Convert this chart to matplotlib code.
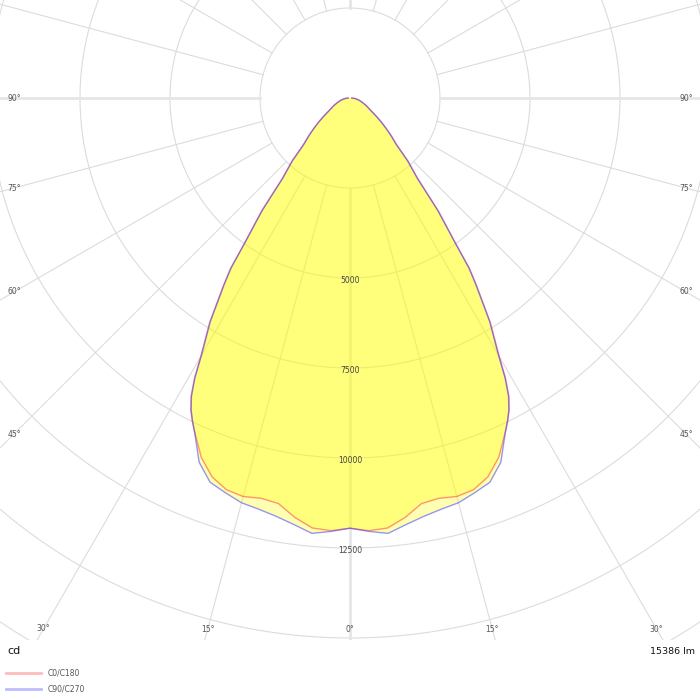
import numpy as np
import matplotlib
matplotlib.use("Agg")
import matplotlib.pyplot as plt
from matplotlib.patches import Rectangle
from matplotlib.lines import Line2D

# ---------- DATA (luminous intensity, cd) ----------
angles = [0, 2.5, 5, 7.5, 10, 12.5, 15, 17.5, 20, 22.5, 25, 26, 27, 28, 29,
          30, 32, 34, 35, 36, 37, 38, 40, 42.5, 45, 47.5, 50, 52.5, 55, 57.5,
          60, 65, 70, 75, 80, 85, 90]
c0_c180 = [11950, 12030, 11990, 11750, 11440, 11390, 11460, 11410, 11200, 10800,
           10220, 9990, 9740, 9410, 8920, 8290, 7360, 6290, 5790, 4990, 4440,
           3990, 2940, 2400, 1830, 1560, 1310, 1100, 910, 750,
           640, 500, 370, 280, 200, 120, 50]
c90_c270 = [11950, 12050, 12140, 11950, 11800, 11700, 11640, 11500, 11360, 10950,
            10220, 9980, 9720, 9380, 8880, 8250, 7320, 6250, 5750, 4950, 4400,
            3950, 2900, 2370, 1800, 1540, 1300, 1090, 900, 740,
            630, 490, 370, 280, 200, 120, 50]
series_names = ["C0/C180", "C90/C270"]
series_colors = ["#ff4040", "#4040ff"]

ring_values = [2500, 5000, 7500, 10000, 12500, 15000, 17500, 20000]
ring_labels = [5000, 7500, 10000, 12500]
angle_ticks = [0, 15, 30, 45, 60, 75, 90]
unit_text = "cd"
flux_text = "15386 lm"

# ---------- LAYOUT ----------
W = H = 700
cx, cy = 350, 98            # pole of the diagram, px from top-left
px_per_cd = 90 / 2500
rmax = 20000
R = rmax * px_per_cd

fig = plt.figure(figsize=(7, 7), dpi=100)
ax = fig.add_axes([(cx - R) / W, (H - cy - R) / H, 2 * R / W, 2 * R / H],
                  projection="polar")
ax.set_theta_zero_location("S")
ax.set_ylim(0, rmax)
ax.set_axis_off()

clip = Rectangle((0, 60 / H), 1, 640 / H, transform=fig.transFigure, fill=False)

# ---------- GRID ----------
th = np.linspace(0, 2 * np.pi, 721)
for v in ring_values:
    ax.plot(th, np.full_like(th, v), color="#dcdcdc", lw=0.8, zorder=1)
for a in range(0, 360, 15):
    main = a % 90 == 0
    ax.plot([np.radians(a)] * 2, [2500, rmax],
            color="#e6e6e6" if main else "#dcdcdc",
            lw=2 if main else 0.8, zorder=1)

# ---------- CURVES ----------
ang = np.radians(angles)
theta = np.concatenate([-ang[::-1], ang[1:]])
for vals, col in zip([c0_c180, c90_c270], series_colors):
    vals = np.array(vals)
    r = np.concatenate([vals[::-1], vals[1:]])
    ax.fill(theta, r, color="#ffff00", alpha=0.3, lw=0, zorder=2)
    ax.plot(theta, r, color=col, alpha=0.55, lw=1, zorder=3)

for art in ax.lines + ax.patches:
    art.set_clip_path(clip)

# ---------- LABELS ----------
for v in ring_labels:
    ax.text(0, v + 70, f"{v}", ha="center", va="center", fontsize=5.5,
            color="#444444", zorder=4)

for a in angle_ticks:
    t = np.radians(a)
    if a <= 30:
        r_px = (629 - cy) / np.cos(t)
    else:
        r_px = (cx - 14) / np.sin(t)
    r_cd = r_px / px_per_cd
    for s in ([1] if a == 0 else [1, -1]):
        ax.text(s * t, r_cd, f"{a}°", ha="center", va="center", fontsize=5.5,
                color="#555555", zorder=4)

fig.text(7 / W, 1 - 651 / H, unit_text, fontsize=8, ha="left", va="center",
         color="#111111")
fig.text(695 / W, 1 - 651 / H, flux_text, fontsize=6.8, ha="right", va="center",
         color="#111111")

handles = [Line2D([], [], color=c, alpha=0.35, lw=2) for c in series_colors]
fig.legend(handles, series_names, loc="upper left",
           bbox_to_anchor=(6 / W, 1 - 669 / H), bbox_transform=fig.transFigure,
           frameon=False, fontsize=5.5, handlelength=4.6, handletextpad=0.9,
           labelspacing=0.85, borderpad=0, borderaxespad=0, labelcolor="#555555")

fig.savefig("out.png", dpi=100)
